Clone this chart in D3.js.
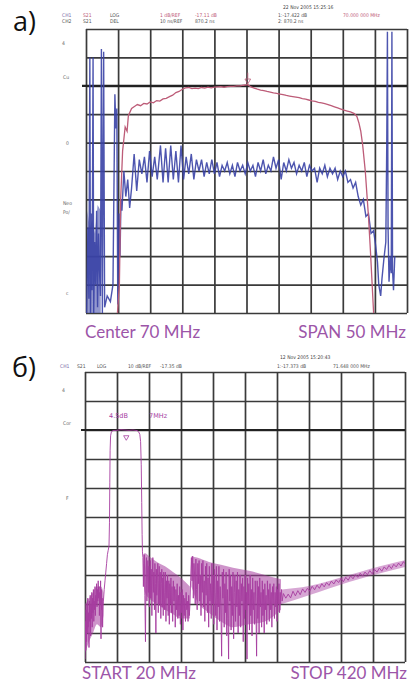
<!DOCTYPE html>
<html><head><meta charset="utf-8">
<script src="https://cdn.jsdelivr.net/npm/d3@7"></script>
<style>body{margin:0;background:#fff}svg{display:block}</style>
</head><body>
<svg id="c" width="409" height="682"></svg>
<script>
// ---------- DATA ----------
const topFreqTicks = [45,50,55,60,65,70,75,80,85,90,95];
const topRedTicks = [-25,-24,-23,-22,-21,-20,-19,-18,-17,-16,-15];
const bottomFreqTicks = [20,60,100,140,180,220,260,300,340,380,420];
const bottomDbTicks = [-100,-90,-80,-70,-60,-50,-40,-30,-20,-10,0];

// S21 magnitude (dB), top panel
const redTrace = [[49.9,-25],[50.2,-24],[50.4,-21],[50.7,-19.3],[51.1,-18.45],[51.4,-18.6],[51.6,-18.05],[52.1,-17.8],[52.6,-17.72],[53.0,-17.66],[53.5,-17.7],[54.0,-17.62],[54.5,-17.64],[55.0,-17.57],[55.5,-17.6],[56.0,-17.52],[56.5,-17.54],[57.0,-17.46],[57.5,-17.44],[58.0,-17.38],[58.5,-17.33],[59.0,-17.24],[59.5,-17.2],[60.0,-17.12],[60.5,-17.07],[61.0,-17.06],[61.5,-17.1],[62.0,-17.08],[62.5,-17.1],[63.0,-17.06],[63.5,-17.08],[64.0,-17.05],[64.5,-17.07],[65.0,-17.05],[65.5,-17.04],[66.0,-17.03],[66.5,-17.05],[67.0,-17.03],[67.5,-17.02],[68.0,-17.02],[68.5,-17.0],[69.0,-17.0],[69.5,-16.98],[70.2,-16.96],[70.7,-17.04],[71.2,-17.08],[71.7,-17.12],[72.2,-17.15],[72.7,-17.17],[73.2,-17.2],[73.7,-17.22],[74.2,-17.25],[74.7,-17.27],[75.2,-17.29],[75.7,-17.31],[76.2,-17.34],[76.7,-17.36],[77.2,-17.38],[77.7,-17.4],[78.2,-17.42],[78.7,-17.45],[79.2,-17.47],[79.7,-17.5],[80.2,-17.53],[80.7,-17.55],[81.2,-17.58],[81.7,-17.6],[82.2,-17.63],[82.7,-17.66],[83.2,-17.7],[83.7,-17.74],[84.2,-17.78],[84.7,-17.82],[85.2,-17.86],[85.7,-17.89],[86.2,-17.92],[86.8,-17.98],[87.2,-18.08],[87.5,-18.3],[87.8,-18.6],[88.1,-19.1],[88.5,-20.0],[89.0,-21.6],[89.3,-22.8],[89.55,-23.9],[89.8,-25]];

// Group delay (ns), top panel
const blueTrace = [[45.1,770],[45.3,800],[45.45,775],[45.6,860],[45.7,770],[45.85,805],[45.95,778],[46.1,860],[46.2,770],[46.35,795],[46.5,780],[46.65,806],[46.8,772],[46.95,798],[47.1,785],[47.25,776],[47.4,863],[47.55,770],[47.75,862],[47.9,772],[48.3,776],[48.8,774],[49.2,780],[49.5,847],[49.65,835],[49.8,842],[49.95,773],[50.15,805],[50.3,790],[50.45,810],
[50.6,806],[50.9,820],[51.2,811],[51.5,817],[51.8,807],[52.1,814],[52.5,826],[52.9,813],[53.3,824],[53.7,819],[54.1,825],[54.5,816],[54.9,827],[55.3,818],[55.7,825],[56.1,817],[56.6,829],[57.0,816],[57.4,828],[57.8,816],[58.2,829],[58.6,817],[59.0,827],[59.4,816],[59.8,829],[60.2,817],[60.6,825],[61.0,819],[61.4,826],[61.8,817],[62.2,824],[62.6,820],[63.0,824],[63.4,818],[63.8,823],[64.2,819],[64.6,824],[65.0,819],[65.4,823],[65.8,818],[66.2,822],[66.6,820],[67.0,823],[67.4,819],[67.8,822],[68.2,818],[68.6,823],[69.0,820],[69.4,822],[69.8,819],[70.2,823],[70.6,820],[71.0,822],[71.4,818],[71.8,823],[72.2,820],[72.6,824],[73.0,819],[73.4,822],[73.8,820],[74.2,825],[74.6,821],[75.0,824],[75.4,817],[75.8,823],[76.2,820],[76.6,824],[77.0,821],[77.4,823],[77.8,819],[78.2,822],[78.6,820],[79.0,823],[79.4,818],[79.8,822],[80.2,820],[80.6,821],[81.0,816],[81.4,821],[81.8,819],[82.2,822],[82.6,818],[83.0,821],[83.4,819],[83.8,821],[84.2,817],[84.6,820],[85.0,818],[85.4,820],[85.8,816],[86.2,817],[86.6,814],[87.0,816],[87.4,811],[87.8,808],[88.2,810],[88.6,804],[89.0,805],[89.4,798],[89.8,799],[90.1,794],[90.4,788],[90.6,780],[90.9,776],[91.1,782],[91.4,789],[91.7,795],[91.85,830],[91.95,869],[92.05,800],[92.2,781],[92.4,790],[92.55,784],[92.65,869],[92.75,785],[92.9,778],[93.1,790]];
// dense out-of-band delay noise, top panel (upper edge, ns)
const blueBand = [[45.2,806],[45.6,800],[46.0,803],[46.4,798],[46.8,808],[47.3,806]];

// S21 magnitude (dB), bottom panel
const purpleTrace = [[20,-99],[20.5,-86],[21,-96],[21.5,-82],[22,-93],[22.5,-80],[23,-90],[23.5,-78],[24,-88],[24.5,-83],[25,-95],[25.5,-79],[26,-86],[26.5,-77],[27,-91],[27.5,-80],[28,-85],[28.5,-76],[29,-88],[29.5,-78],[30,-83],[30.5,-75],[31,-86],[31.5,-79],[32,-82],[32.5,-74],[33,-84],[33.5,-77],[34,-80],[34.5,-73],[35,-81],[35.5,-75],[36,-79],[36.5,-72],[37,-78],[37.5,-74],[38,-84],[38.5,-76],[39,-80],[39.5,-72],[40,-92],[40.5,-75],[41,-82],[41.5,-78],[42,-88],[42.5,-81],[43,-79],[44,-75],[45,-72],[46,-69],[47,-66],[48,-63],[49,-61.5],[50,-60],[50.6,-52],[51,-38],[51.4,-27],[52,-22],[53,-20.6],[55,-20.2],[60,-20.1],[65,-19.9],[70,-20.0],[75,-20.1],[80,-20.0],[85,-20.2],[87,-20.6],[88.5,-21.5],[89.5,-24],[90.3,-32],[90.9,-45],[91.4,-56],[91.8,-62],
[92.4,-64],[93.0,-74],[93.6,-66],[94.2,-63],[94.8,-77],[95.6,-93],[96.2,-68],[96.8,-64],[97.4,-79],[98,-70],[98.6,-65],[99.2,-76],[99.8,-67],[100.4,-81],[101,-72],[101.6,-65],[102.2,-78],[102.8,-68],[103.6,-84],[104.2,-70],[104.8,-64],[105.4,-76],[106,-69],[106.8,-82],[107.4,-66],[108,-73],[108.6,-90],[109.2,-68],[109.8,-77],[110.4,-71],[111,-66],[111.6,-83],[112.2,-72],[112.8,-67],[113.4,-80],[114,-69],[114.8,-85],[115.4,-73],[116,-68],[116.6,-81],[117.2,-71],[117.8,-84],[118.4,-69],[119,-76],[119.6,-82],[120.4,-69],[121.2,-86],[122,-72],[122.6,-78],[123.2,-70],[124,-84],[124.8,-72],[125.4,-87],[126,-73],[126.8,-80],[127.4,-71],[128,-83],[128.8,-74],[129.6,-86],[130.4,-72],[131.2,-79],[132,-74],[132.8,-88],[133.6,-75],[134.4,-82],[135.2,-73],[136,-85],[136.8,-77],[137.6,-84],[138.4,-74],[139.2,-87],[140,-76],[140.8,-83],[141.6,-75],[142.4,-89],[143.2,-77],[144,-84],[144.8,-78],[145.6,-86],[146.4,-76],[147.2,-82],[148,-79],[148.8,-86],[149.6,-77],[150.4,-84],[151.2,-80],[152,-72],
[153,-64],[153.8,-72],[154.6,-63.5],[155.4,-78],[156.2,-66],[157,-70],[157.8,-80],[158.6,-64.5],[159.4,-75],[160.2,-82],[161,-66],[161.8,-73],[162.6,-65],[163.4,-79],[164.2,-70],[165,-84],[165.8,-66],[166.6,-76],[167.4,-65],[168.2,-81],[169,-72],[169.8,-86],[170.6,-67],[171.4,-77],[172.2,-66],[173,-83],[173.8,-71],[174.6,-88],[175.4,-67],[176.2,-79],[177,-73],[177.8,-85],[178.6,-66],[179.4,-80],[180.2,-70],[181,-87],[181.8,-68],[182.6,-76],[183.4,-84],[184.2,-67],[185,-89],[185.8,-72],[186.6,-81],[187.4,-67],[188.2,-86],[189,-74],[189.8,-80],[190.8,-98],[191.6,-69],[192.4,-78],[193.2,-68],[194,-88],[194.8,-73],[195.6,-83],[196.4,-69],[197.2,-91],[198,-75],[198.8,-85],[199.5,-99],[200.2,-68],[201,-79],[201.8,-70],[202.6,-89],[203.4,-74],[204.2,-84],[205,-69],[205.8,-92],[206.6,-76],[207.4,-70],[208.2,-86],[209,-72],[209.8,-81],[210.6,-69],[211.4,-90],[212.2,-75],[213,-84],[213.8,-70],[214.6,-88],[215.4,-73],[216.2,-79],[217,-71],[217.8,-93],[218.6,-74],[219.4,-85],[220.2,-70],[221,-82],[221.8,-76],[222.5,-99],[223.2,-71],[224,-80],[224.8,-73],[225.6,-89],[226.4,-70],[227.2,-84],[228,-75],[228.8,-91],[229.6,-71],[230.4,-82],[231.2,-76],[232,-87],[232.8,-72],[233.6,-80],[234.5,-98],[235.2,-72],[236,-85],[236.8,-74],[237.6,-90],[238.4,-71],[239.2,-81],[240,-76],[240.8,-88],[241.6,-72],[242.4,-84],[243.2,-75],[244,-90],[244.8,-73],[245.6,-82],[246.4,-77],[247.2,-87],[248,-72],[248.8,-80],[249.6,-75],[250.4,-86],[251.2,-73],[252,-82],[252.8,-76],[253.6,-88],[254.4,-74],[255.2,-80],[256,-73],[256.8,-85],[257.6,-76],[258.4,-81],[259.2,-74],[260,-86],[260.8,-75],[261.6,-80],[262.4,-73],[263.2,-83],[264,-76],[264.8,-80],[265.6,-75],[266.4,-79],
[268,-76.4],[271,-78.0],[274,-76.6],[277,-77.9],[280,-75.6],[283,-77.2],[286,-75.4],[289,-76.8],[292,-74.8],[295,-76.0],[298,-74.6],[301,-75.6],[304,-73.9],[307,-75.1],[310,-73.5],[313,-74.6],[316,-73.0],[319,-74.1],[322,-72.6],[325,-73.6],[328,-72.1],[331,-73.1],[334,-71.7],[337,-72.6],[340,-71.2],[343,-72.3],[346,-70.8],[349,-71.8],[352,-70.3],[355,-71.3],[358,-69.9],[361,-70.8],[364,-69.4],[367,-70.4],[370,-69.0],[373,-69.9],[376,-68.5],[379,-69.6],[382,-68.1],[385,-69.0],[388,-67.6],[391,-68.7],[394,-67.2],[397,-68.1],[400,-66.7],[403,-67.8],[406,-66.3],[409,-67.2],[412,-65.9],[415,-66.9],[418,-65.4],[420,-66.1]];
// noise envelopes: [freq, upper dB, lower dB]
const bandLeft = [[20,-80,-97],[25,-78,-93],[30,-76,-90],[35,-74,-87],[40,-74,-88],[43,-76,-84]];
const band1 = [[92.5,-63,-70],[95,-62.5,-76],[100,-63.5,-78],[110,-65.5,-80],[120,-67,-82],[130,-69,-83.5],[140,-71,-85],[151,-74,-85]];
const band2 = [[153,-63.5,-74],[160,-64,-79],[175,-65.5,-83],[190,-66.5,-86],[205,-67.5,-88],[225,-68.5,-87],[245,-70,-86],[265,-71.5,-82]];
const bandSmooth = [[266,-75,-80],[300,-73.8,-77],[350,-70,-72.4],[400,-66.2,-68.6],[420,-64.9,-67.2]];

// ---------- DRAW ----------
const svg = d3.select("#c");
const GRID = "#3a3a3a";
const RED = "#bd5c78", BLUE = "#3a43a6", PURPLE = "#a63c9f", LABEL = "#9c55a8";

function grid(g, x, y, x0, x1, y0, y1, xt, yt) {
  g.append("g").attr("transform", `translate(0,${y1})`)
    .call(d3.axisBottom(x).tickValues(xt).tickSize(-(y1 - y0)).tickFormat(""))
    .call(s => { s.select(".domain").remove(); s.selectAll("line").attr("stroke", GRID).attr("stroke-width", 1.7); });
  g.append("g").attr("transform", `translate(${x0},0)`)
    .call(d3.axisLeft(y).tickValues(yt).tickSize(-(x1 - x0)).tickFormat(""))
    .call(s => { s.select(".domain").remove(); s.selectAll("line").attr("stroke", GRID).attr("stroke-width", 1.7); });
}
function clip(id, x0, x1, y0, y1) {
  svg.append("clipPath").attr("id", id).append("rect")
    .attr("x", x0).attr("y", y0).attr("width", x1 - x0).attr("height", y1 - y0);
}

// ----- top panel -----
const T = {x0: 86, x1: 407, y0: 29, y1: 313};
const xT = d3.scaleLinear().domain([45, 95]).range([T.x0, T.x1]);
const yRed = d3.scaleLinear().domain([-25, -15]).range([T.y1, T.y0]);
const yBlue = d3.scaleLinear().domain([770, 870]).range([T.y1, T.y0]);
const gT = svg.append("g");
grid(gT, xT, yRed, T.x0, T.x1, T.y0, T.y1, topFreqTicks, topRedTicks);
gT.append("line").attr("x1", T.x0 - 4).attr("x2", T.x1).attr("y1", yRed(-17)).attr("y2", yRed(-17))
  .attr("stroke", "#222").attr("stroke-width", 2.2);
clip("ct", T.x0, T.x1, T.y0, T.y1);
const gTT = gT.append("g").attr("clip-path", "url(#ct)");
gTT.append("path").datum(blueBand)
  .attr("d", d3.area().x(d => xT(d[0])).y0(yBlue(770)).y1(d => yBlue(d[1])))
  .attr("fill", BLUE).attr("opacity", 0.55);
gTT.append("path").datum(blueTrace)
  .attr("d", d3.line().x(d => xT(d[0])).y(d => yBlue(d[1])))
  .attr("fill", "none").attr("stroke", BLUE).attr("stroke-width", 1.4).attr("opacity", 0.9);
gTT.append("path").datum(redTrace)
  .attr("d", d3.line().x(d => xT(d[0])).y(d => yRed(d[1])))
  .attr("fill", "none").attr("stroke", RED).attr("stroke-width", 1.3);
// peak marker
const pk = redTrace.find(d => d[0] === 70.2);
gT.append("path").attr("d", d3.symbol(d3.symbolTriangle, 14)())
  .attr("transform", `translate(${xT(pk[0])},${yRed(pk[1]) - 4}) rotate(180)`)
  .attr("fill", "none").attr("stroke", RED).attr("stroke-width", 0.8);
gT.append("line").attr("x1", xT(pk[0])).attr("x2", xT(pk[0])).attr("y1", yRed(pk[1]) - 12).attr("y2", yRed(pk[1]) - 6)
  .attr("stroke", RED).attr("stroke-width", 0.8);

// ----- bottom panel -----
const B = {x0: 85, x1: 405, y0: 372, y1: 662};
const xB = d3.scaleLinear().domain([20, 420]).range([B.x0, B.x1]);
const yB = d3.scaleLinear().domain([-100, 0]).range([B.y1, B.y0]);
const gB = svg.append("g");
grid(gB, xB, yB, B.x0, B.x1, B.y0, B.y1, bottomFreqTicks, bottomDbTicks);
gB.append("line").attr("x1", B.x0 - 4).attr("x2", B.x1).attr("y1", yB(-20)).attr("y2", yB(-20))
  .attr("stroke", "#222").attr("stroke-width", 2.2);
clip("cb", B.x0, B.x1, B.y0, B.y1);
const gBB = gB.append("g").attr("clip-path", "url(#cb)");
const bandArea = d3.area().x(d => xB(d[0])).y0(d => yB(d[2])).y1(d => yB(d[1])).curve(d3.curveMonotoneX);
[bandLeft, band1, band2, bandSmooth].forEach((b, i) => {
  gBB.append("path").datum(b).attr("d", bandArea).attr("fill", PURPLE).attr("opacity", i === 3 ? 0.45 : 0.55);
});
gBB.append("path").datum(purpleTrace)
  .attr("d", d3.line().x(d => xB(d[0])).y(d => yB(d[1])))
  .attr("fill", "none").attr("stroke", PURPLE).attr("stroke-width", 0.9);
gB.append("path").attr("d", d3.symbol(d3.symbolTriangle, 12)())
  .attr("transform", `translate(${xB(71.6)},${yB(-22.5)}) rotate(180)`)
  .attr("fill", "none").attr("stroke", PURPLE).attr("stroke-width", 0.8);
gB.append("text").attr("x", xB(50)).attr("y", yB(-16)).text("4.5dB")
  .attr("font-family", "DejaVu Sans").attr("font-size", 6.5).attr("fill", PURPLE);
gB.append("text").attr("x", xB(100)).attr("y", yB(-16)).text("7MHz")
  .attr("font-family", "DejaVu Sans").attr("font-size", 6.5).attr("fill", PURPLE);

// ----- texts -----
const small = (x, y, t, c) => svg.append("text").attr("x", x).attr("y", y).text(t)
  .attr("font-family", "DejaVu Sans Condensed, DejaVu Sans").attr("font-size", 5).attr("fill", c || "#555");
small(283, 9, "22 Nov 2005   15:25:16", "#444");
small(62, 17, "CH1", "#7a6aa8"); small(83, 17, "S21", RED); small(110, 17, "LOG", "#555");
small(160, 17, "1 dB/REF", RED); small(195, 17, "-17.11 dB", RED);
small(62, 23, "CH2", "#555"); small(83, 23, "S21", "#555"); small(110, 23, "DEL", "#555");
small(160, 23, "10 ns/REF", "#555"); small(195, 23, "870.2 ns", "#555");
small(278, 17, "1:-17.422 dB", "#555"); small(343, 17, "70.000 000 MHz", RED);
small(278, 23, "2: 870.2 ns", "#555");
small(280, 359, "12 Nov 2005   15:20:43", "#444");
small(60, 368, "CH1", "#7a6aa8"); small(77, 368, "S21", "#555"); small(97, 368, "LOG", "#555");
small(128, 368, "10 dB/REF", "#555"); small(160, 368, "-17.35 dB", "#555");
small(277, 368, "1:-17.373 dB", "#555"); small(333, 368, "71.648 000 MHz", "#555");
// side annotations
[[62, 45, "4"], [63, 79, "Cu"], [66, 145, "0"], [63, 205, "Neo"], [63, 214, "Po/"], [66, 295, "c"],
 [62, 392, "4"], [63, 425, "Cor"], [66, 500, "F"]].forEach(d => small(d[0], d[1], d[2], "#666"));

const big = (x, y, t) => svg.append("text").attr("x", x).attr("y", y).text(t)
  .attr("font-family", "Open Sans, DejaVu Sans").attr("font-size", 27).attr("fill", "#111");
big(13, 31, "а)");
big(12, 377, "б)");

const lab = (x, y, t, anchor) => svg.append("text").attr("x", x).attr("y", y).text(t)
  .attr("text-anchor", anchor).attr("font-family", "Lato, Open Sans").attr("font-size", 17).attr("fill", LABEL);
lab(85, 338, "Center 70 MHz", "start");
lab(406, 338, "SPAN 50 MHz", "end");
lab(82, 679, "START 20 MHz", "start");
lab(407, 679, "STOP 420 MHz", "end");
</script>
</body></html>
